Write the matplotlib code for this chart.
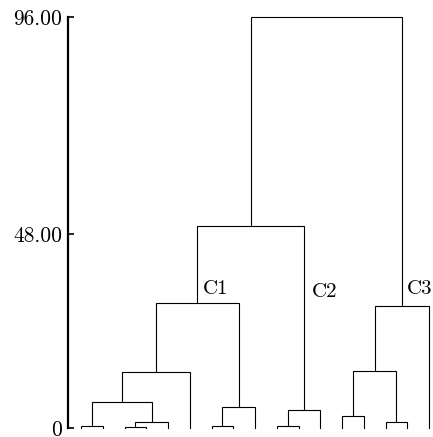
import matplotlib
matplotlib.use("Agg")
import matplotlib.pyplot as plt

plt.rcParams['font.family'] = 'serif'
plt.rcParams['font.serif'] = ['cmr10']
plt.rcParams['mathtext.fontset'] = 'cm'

# 17 leaves, merges in scipy-linkage style: (left, right, height)
n_leaves = 17
merges = [
    (0, 1, 0.47),      # 17
    (2, 3, 0.23),      # 18
    (18, 4, 1.40),     # 19
    (17, 19, 6.06),    # 20
    (20, 5, 13.05),    # 21
    (6, 7, 0.47),      # 22
    (22, 8, 4.89),     # 23
    (21, 23, 29.13),   # 24  C1
    (9, 10, 0.47),     # 25
    (25, 11, 4.19),    # 26  C2
    (24, 26, 47.07),   # 27
    (12, 13, 2.80),    # 28
    (14, 15, 1.40),    # 29
    (28, 29, 13.28),   # 30
    (30, 16, 28.43),   # 31  C3
    (27, 31, 96.00),   # 32
]
cluster_names = {24: 'C1', 26: 'C2', 31: 'C3'}
tick_values = [0, 45.2, 96]
tick_labels = ['0', '48.00', '96.00']

fig = plt.figure(figsize=(4.33, 4.37), dpi=100)
ax = fig.add_axes([68 / 433, 9 / 437, 365 / 433, 411 / 437])

# node positions
xs = {i: float(i) for i in range(n_leaves)}
hs = {i: 0.0 for i in range(n_leaves)}
for k, (a, b, h) in enumerate(merges):
    node = n_leaves + k
    xs[node] = (xs[a] + xs[b]) / 2
    hs[node] = h
    ax.plot([xs[a], xs[a], xs[b], xs[b]], [hs[a], h, h, hs[b]],
            color='black', lw=0.8, clip_on=False, solid_joinstyle='miter')

label_offsets = {24: (0.28, 30.3), 26: (0.35, 29.6), 31: (0.24, 30.4)}
for node, name in cluster_names.items():
    dx, y = label_offsets[node]
    ax.text(xs[node] + dx, y, name, ha='left', va='bottom', fontsize=15)

ax.set_xlim(-13 / 21.75, 352 / 21.75)
ax.set_ylim(0, 96)
for s in ['top', 'right', 'bottom']:
    ax.spines[s].set_visible(False)
ax.spines['left'].set_linewidth(1.6)
ax.set_xticks([])
ax.set_yticks(tick_values)
ax.set_yticklabels(tick_labels)
ax.tick_params(axis='y', direction='in', length=4, width=1.2, pad=4, labelsize=15.5)

fig.savefig('out.png', dpi=100)
